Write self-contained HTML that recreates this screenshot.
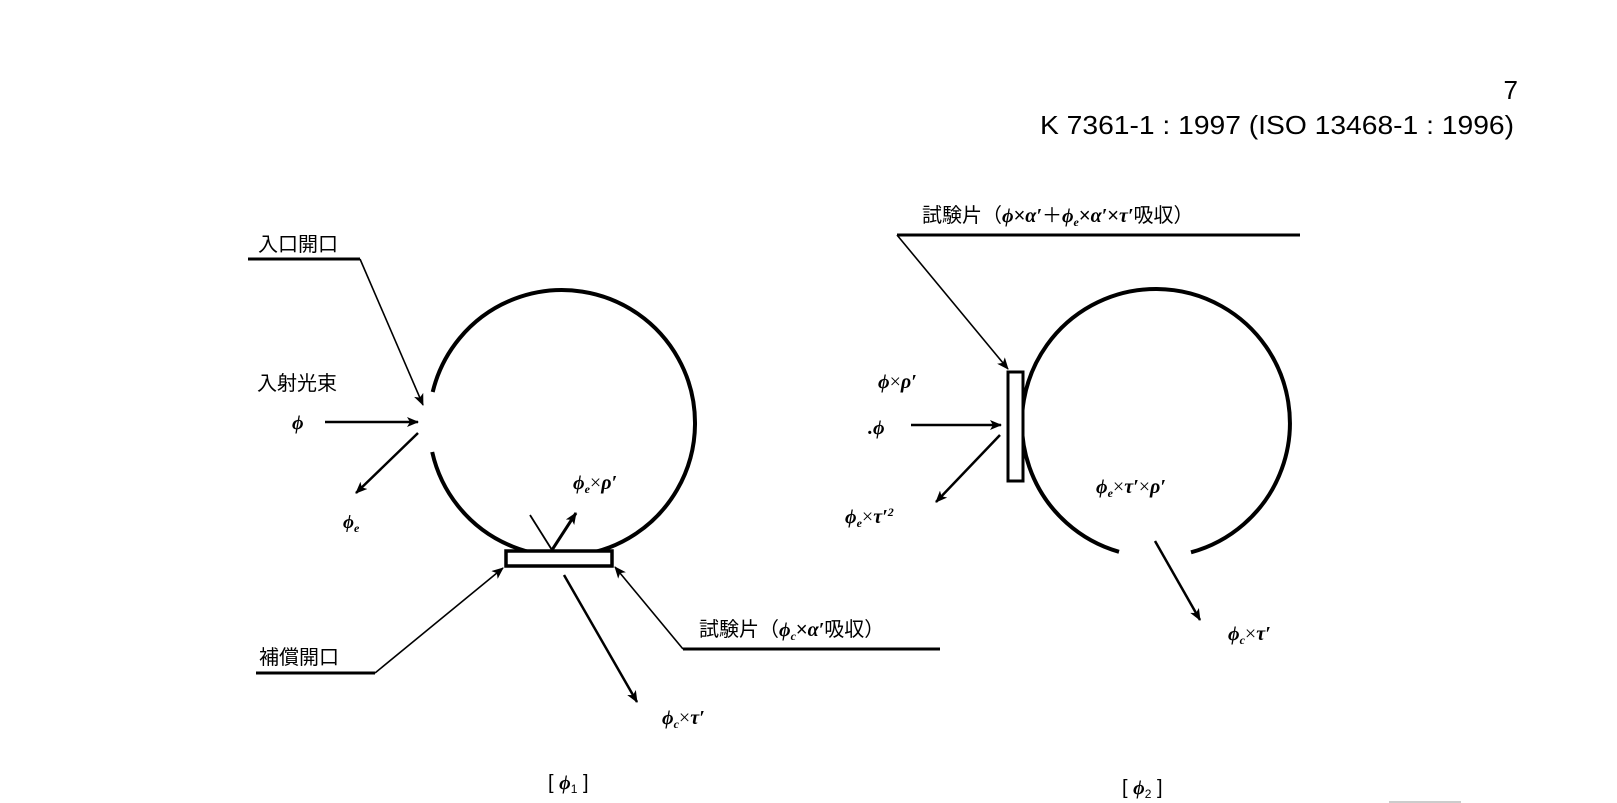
<!DOCTYPE html>
<html><head><meta charset="utf-8"><style>
html,body{margin:0;padding:0;background:#fff;}
svg{display:block;}
text{font-family:"Liberation Sans","Noto Sans CJK JP",sans-serif;fill:#000;}
.g{font-family:"Liberation Serif","Noto Serif CJK SC",serif;font-style:italic;font-weight:bold;}
</style></head><body>
<svg width="1617" height="803" viewBox="0 0 1617 803" xmlns="http://www.w3.org/2000/svg">
<defs>
<marker id="a" markerWidth="12" markerHeight="10" refX="11" refY="5" orient="auto" markerUnits="userSpaceOnUse">
<path d="M0,0 L12,5 L0,10 L3,5 Z" fill="#000"/></marker>
</defs>
<text x="1518" y="99" font-size="26" text-anchor="end">7</text>
<text x="1040" y="134" font-size="26" textLength="474" lengthAdjust="spacingAndGlyphs">K 7361-1 : 1997 (ISO 13468-1 : 1996)</text>

<!-- Left figure -->
<path d="M432.7,392 A133,133 0 1 1 432.2,452" fill="none" stroke="#000" stroke-width="4"/>
<rect x="506" y="551" width="106" height="15" fill="#fff" stroke="#000" stroke-width="3.5"/>
<text x="258" y="251" font-size="20">入口開口</text>
<line x1="248" y1="259" x2="360" y2="259" stroke="#000" stroke-width="3"/>
<polyline points="360,259 423,405" fill="none" stroke="#000" stroke-width="1.6" marker-end="url(#a)"/>
<text x="257" y="390" font-size="20">入射光束</text>
<text x="292" y="429" font-size="20" class="g">ϕ</text>
<line x1="325" y1="422" x2="418" y2="422" stroke="#000" stroke-width="2.5" marker-end="url(#a)"/>
<line x1="418" y1="433" x2="356" y2="493" stroke="#000" stroke-width="2.5" marker-end="url(#a)"/>
<text x="343" y="528" font-size="19" class="g">ϕ<tspan font-size="12" dy="4">e</tspan></text>
<text x="573" y="489" font-size="20" class="g">ϕ<tspan font-size="12" dy="4">e</tspan><tspan dy="-4" font-style="normal" font-weight="normal">×</tspan>ρ′</text>
<line x1="530" y1="515" x2="552" y2="550" stroke="#000" stroke-width="1.8"/>
<line x1="552" y1="550" x2="576" y2="513" stroke="#000" stroke-width="3" marker-end="url(#a)"/>
<line x1="564" y1="575" x2="637" y2="702" stroke="#000" stroke-width="2.5" marker-end="url(#a)"/>
<text x="662" y="724" font-size="20" class="g">ϕ<tspan font-size="12" dy="4">c</tspan><tspan dy="-4" font-style="normal" font-weight="normal">×</tspan>τ′</text>
<text x="259" y="664" font-size="20">補償開口</text>
<line x1="256" y1="673" x2="375" y2="673" stroke="#000" stroke-width="3"/>
<polyline points="375,673 503,568" fill="none" stroke="#000" stroke-width="1.6" marker-end="url(#a)"/>
<text x="699" y="636" font-size="20">試験片（<tspan class="g">ϕ</tspan><tspan font-size="12" dy="4" class="g">c</tspan><tspan dy="-4">×</tspan><tspan class="g">α′</tspan>吸収）</text>
<line x1="940" y1="649" x2="683" y2="649" stroke="#000" stroke-width="3"/>
<polyline points="683,649 615,567" fill="none" stroke="#000" stroke-width="1.6" marker-end="url(#a)"/>
<text x="548" y="789" font-size="20">[ <tspan class="g">ϕ</tspan><tspan font-size="12" dy="4">1</tspan><tspan dy="-4"> ]</tspan></text>

<!-- Right figure -->
<path d="M1191,552.3 A134,134 0 1 0 1119,551.8" fill="none" stroke="#000" stroke-width="4"/>
<rect x="1008" y="372" width="15" height="109" fill="#fff" stroke="#000" stroke-width="3"/>
<text x="922" y="222" font-size="20">試験片（<tspan class="g">ϕ</tspan>×<tspan class="g">α′</tspan>＋<tspan class="g">ϕ</tspan><tspan font-size="12" dy="4" class="g">e</tspan><tspan dy="-4">×</tspan><tspan class="g">α′</tspan>×<tspan class="g">τ′</tspan>吸収）</text>
<line x1="1300" y1="235" x2="897" y2="235" stroke="#000" stroke-width="3"/>
<polyline points="897,235 1008,369" fill="none" stroke="#000" stroke-width="1.6" marker-end="url(#a)"/>
<text x="878" y="388" font-size="20" class="g">ϕ<tspan font-style="normal" font-weight="normal">×</tspan>ρ′</text>
<text x="868" y="434" font-size="20" class="g">.ϕ</text>
<line x1="911" y1="425" x2="1001" y2="425" stroke="#000" stroke-width="2.5" marker-end="url(#a)"/>
<line x1="1000" y1="435" x2="936" y2="502" stroke="#000" stroke-width="2.5" marker-end="url(#a)"/>
<text x="845" y="523" font-size="20" class="g">ϕ<tspan font-size="12" dy="4">e</tspan><tspan dy="-4" font-style="normal" font-weight="normal">×</tspan>τ′<tspan font-size="12" dy="-7">2</tspan></text>
<text x="1096" y="493" font-size="20" class="g">ϕ<tspan font-size="12" dy="4">e</tspan><tspan dy="-4" font-style="normal" font-weight="normal">×</tspan>τ′<tspan font-style="normal" font-weight="normal">×</tspan>ρ′</text>
<line x1="1155" y1="541" x2="1200" y2="620" stroke="#000" stroke-width="2.5" marker-end="url(#a)"/>
<text x="1228" y="640" font-size="20" class="g">ϕ<tspan font-size="12" dy="4">c</tspan><tspan dy="-4" font-style="normal" font-weight="normal">×</tspan>τ′</text>
<text x="1122" y="794" font-size="20">[ <tspan class="g">ϕ</tspan><tspan font-size="12" dy="4">2</tspan><tspan dy="-4"> ]</tspan></text>
<line x1="1389" y1="802" x2="1461" y2="802" stroke="#bbb" stroke-width="1.5"/>
</svg>
</body></html>
